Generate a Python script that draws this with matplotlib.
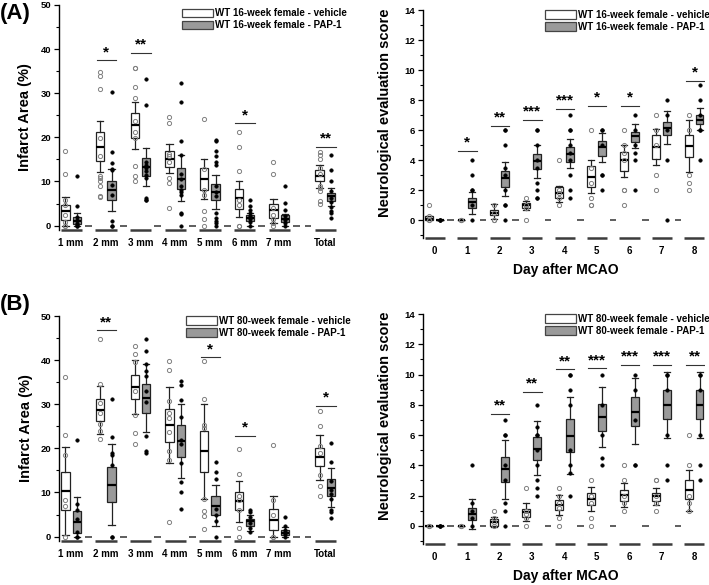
import matplotlib
matplotlib.use('Agg')
import matplotlib.pyplot as plt
from matplotlib.patches import Patch
from matplotlib.ticker import MultipleLocator

plt.rcParams['font.family'] = ['Liberation Sans', 'DejaVu Sans']
plt.rcParams['font.weight'] = 'bold'

# ---------------- data ----------------
inf_labels = ['1 mm', '2 mm', '3 mm', '4 mm', '5 mm', '6 mm', '7 mm', 'Total']
day_labels = ['0', '1', '2', '3', '4', '5', '6', '7', '8']

leg16 = ['WT 16-week female - vehicle', 'WT 16-week female - PAP-1']
leg80 = ['WT 80-week female - vehicle', 'WT 80-week female - PAP-1']

# box stats: [whisker low, q1, median, q3, whisker high]
A_inf_veh = [[0, 1.2, 3.2, 4.7, 6.4], [12.1, 14.7, 17.8, 21.1, 23.7], [17.3, 19.8, 22.7, 25.5, 27.9],
             [11.9, 13.3, 15.1, 17.0, 18.5], [6.1, 8.1, 10.6, 13.0, 15.1], [1.9, 3.8, 6.3, 8.4, 10.2],
             [0.6, 1.7, 3.5, 5.0, 6.1], [8.5, 10.0, 11.2, 12.5, 13.8]]
A_inf_pap = [[0, 0.45, 1.0, 1.9, 2.9], [3.4, 5.9, 8.1, 10.2, 12.8], [9.0, 11.3, 13.3, 15.3, 17.6],
             [5.5, 8.3, 10.6, 13.0, 15.9], [3.8, 5.7, 7.6, 9.4, 11.5], [0, 1.1, 1.7, 2.5, 2.9],
             [0, 0.75, 1.4, 2.3, 2.6], [4.4, 5.5, 6.6, 7.4, 8.5]]
A_inf_veh_pts = [[16.8, 11.7, 5.9, 4.6, 2.5, 0.75, 0, 0],
                 [34.7, 33.9, 31.0, 19.8, 15.7, 11.3, 10.8, 10.0, 9.0, 6.8, 6.4],
                 [35.8, 35.8, 31.5, 28.9, 23.8, 21.1, 19.9, 13.4, 11.2, 10.0],
                 [24.5, 23.2, 16.2, 15.7, 14.5, 10.8, 9.6, 4.0],
                 [24.1, 12.9, 8.1, 7.0, 3.2, 1.5, 0],
                 [21.1, 17.9, 12.3, 5.9, 4.7, 0, 0],
                 [14.5, 11.8, 4.0, 2.5, 1.5, 0.5, 0],
                 [16.6, 16.1, 15.1, 13.0, 11.8, 9.0, 8.5, 7.8, 5.5, 5.0]]
A_inf_pap_pts = [[11.2, 4.5, 1.9, 1.3, 0.6, 0.2, 0, 0],
                 [30.2, 16.7, 14.2, 12.8, 12.5, 9.3, 7.0, 1.1, 0, 0],
                 [33.3, 27.4, 14.5, 13.8, 13.0, 12.3, 11.5, 10.8, 6.3, 5.7, 5.9],
                 [32.3, 28.1, 19.1, 15.9, 11.8, 10.6, 8.9, 8.1, 7.6, 6.9, 2.9, 2.7, 0],
                 [19.4, 19.1, 16.8, 15.7, 14.5, 13.8, 8.9, 7.6, 6.8, 2.9, 1.7, 1.0, 0.5, 0],
                 [5.7, 4.4, 3.6, 2.9, 2.2, 1.5, 0.7, 0],
                 [9.0, 5.1, 3.6, 2.1, 1.3, 0.6, 0],
                 [16.1, 12.5, 10.0, 7.8, 6.3, 5.3, 4.1, 3.2, 2.8, 1.7]]
A_inf_sig = [(1, 37.5, '*'), (2, 39.2, '**'), (5, 23.2, '*'), (7, 17.9, '**')]

A_neu_veh = [[0, 0, 0.1, 0.25, 0.3], [0, 0, 0, 0, 0], [0.1, 0.35, 0.5, 0.7, 1.05], [0.7, 0.8, 1.0, 1.15, 1.3],
             [1.2, 1.45, 1.8, 2.2, 2.3], [1.8, 2.2, 2.9, 3.6, 4.0], [2.9, 3.3, 4.0, 4.55, 5.0],
             [3.7, 4.1, 4.9, 5.65, 6.1], [3.2, 4.2, 4.95, 5.65, 6.7]]
A_neu_pap = [[0, 0, 0, 0, 0], [0.4, 0.8, 1.2, 1.45, 1.9], [1.6, 2.2, 2.8, 3.25, 3.9], [2.8, 3.4, 3.95, 4.4, 5.0],
             [3.45, 3.9, 4.4, 4.9, 5.4], [3.9, 4.3, 4.85, 5.3, 5.8], [4.8, 5.2, 5.6, 5.9, 6.4],
             [5.05, 5.65, 6.15, 6.55, 7.25], [6.0, 6.4, 6.7, 7.0, 7.45]]
A_neu_veh_pts = [[1.0, 0.25, 0, 0], [0, 0, 0], [1.0, 0.5, 0, 0], [1.5, 1.0, 0.8, 0],
                 [4.0, 2.0, 1.8, 1.5, 1.0], [6.0, 3.5, 2.5, 1.5, 1.0, 1.0],
                 [6.0, 5.0, 4.5, 4.0, 2.0, 2.0, 1.0], [7.0, 6.0, 5.0, 3.0, 2.0], [7.0, 6.0, 3.0, 2.5, 2.0]]
A_neu_pap_pts = [[0, 0, 0], [4.0, 3.0, 2.0, 2.0, 1.0, 0], [6.0, 6.0, 5.0, 3.5, 3.0, 2.0, 1.0, 1.0, 0],
                 [6.0, 6.0, 5.0, 4.0, 3.5, 2.5, 2.0, 1.5, 1.5], [7.0, 6.0, 6.0, 5.0, 4.5, 4.0, 3.0, 2.0, 1.5],
                 [6.0, 6.0, 5.0, 3.0, 3.0, 2.0], [7.0, 6.0, 5.0, 4.5, 4.0, 2.0], [8.0, 7.0, 6.0, 4.0, 0],
                 [9.0, 8.0, 7.0, 6.0, 6.0, 4.0]]
A_neu_sig = [(1, 4.6, '*'), (2, 6.3, '**'), (3, 6.7, '***'), (4, 7.4, '***'), (5, 7.6, '*'),
             (6, 7.6, '*'), (8, 9.3, '*')]

B_inf_veh = [[0.4, 6.0, 10.4, 14.7, 20.4], [23.2, 26.2, 28.8, 31.1, 34.2], [27.8, 31.1, 33.9, 36.6, 40.1],
             [16.7, 21.4, 25.2, 29.0, 33.8], [8.6, 14.6, 19.3, 23.9, 30.0], [3.3, 6.0, 8.0, 10.1, 12.7],
             [0, 1.4, 3.8, 6.2, 9.2], [12.8, 15.9, 18.0, 20.1, 23.0]]
B_inf_pap = [[0, 0.9, 3.2, 5.8, 8.9], [2.6, 7.8, 11.8, 15.8, 21.1], [23.8, 28.1, 31.4, 34.7, 39.1],
             [13.3, 18.0, 21.6, 25.3, 30.0], [2.4, 5.0, 7.0, 9.1, 11.6], [1.3, 2.5, 3.5, 4.0, 5.0],
             [0, 0.3, 0.8, 1.6, 2.1], [6.8, 9.3, 11.0, 13.0, 15.5]]
B_inf_veh_pts = [[36.2, 23.0, 18.5, 8.4, 6.9, 0],
                 [44.8, 34.5, 30.2, 28.0, 25.5, 24.0, 22.2],
                 [43.1, 41.5, 39.6, 33.0, 27.5, 23.4, 21.1],
                 [39.8, 37.8, 30.8, 28.0, 26.8, 23.6, 19.3, 17.3, 3.2],
                 [39.8, 31.3, 25.4, 24.6, 8.6, 5.9, 4.7, 1.8],
                 [19.9, 14.2, 9.2, 8.2, 6.0, 2.0, 0],
                 [20.7, 8.4, 5.0, 0, 0],
                 [28.4, 25.1, 20.5, 19.0, 14.0, 11.4, 9.2]]
B_inf_pap_pts = [[22.0, 7.5, 6.0, 4.0, 1.0, 0, 0],
                 [31.1, 22.6, 19.0, 18.5, 16.2, 0, 0],
                 [44.7, 42.0, 39.2, 37.5, 36.3, 33.0, 30.5, 22.8, 19.4, 18.9],
                 [35.3, 34.3, 31.0, 27.0, 22.0, 21.0, 16.6, 12.4, 10.2, 6.2],
                 [16.8, 14.7, 13.0, 6.2, 4.8, 3.6, 0],
                 [6.1, 5.5, 4.5, 3.0, 2.0, 1.0],
                 [4.5, 2.5, 1.5, 1.0, 0.5, 0],
                 [21.3, 16.8, 12.5, 10.5, 9.6, 8.5, 6.0, 5.5, 4.2]]
B_inf_sig = [(1, 46.8, '**'), (4, 40.6, '*'), (5, 22.9, '*'), (7, 29.6, '*')]

B_neu_veh = [[0, 0, 0, 0, 0], [0, 0, 0, 0, 0], [-0.1, 0.0, 0.25, 0.45, 0.6], [0.3, 0.6, 0.9, 1.1, 1.5],
             [0.7, 1.05, 1.35, 1.7, 2.05], [1.0, 1.4, 1.8, 2.2, 2.6], [1.25, 1.65, 2.05, 2.4, 2.85],
             [1.35, 1.65, 1.95, 2.2, 2.5], [1.0, 1.75, 2.4, 3.0, 3.7]]
B_neu_pap = [[0, 0, 0, 0, 0], [-0.2, 0.4, 0.8, 1.2, 1.8], [1.8, 2.9, 3.75, 4.55, 5.65], [3.35, 4.35, 5.1, 5.9, 6.9],
             [3.4, 4.85, 5.95, 7.05, 8.5], [5.2, 6.3, 7.2, 8.05, 9.15], [5.4, 6.6, 7.55, 8.5, 9.75],
             [5.8, 7.05, 8.0, 8.95, 10.2], [5.8, 7.05, 8.0, 8.95, 10.2]]
B_neu_veh_pts = [[0, 0, 0], [0, 0, 0], [1.0, 0.5, 0.25, 0], [2.5, 1.0, 0.8, 0.5, 0],
                 [2.5, 2.0, 1.5, 1.2, 0.5, 0], [3.0, 2.0, 1.5, 0.5, 0], [4.0, 3.0, 2.0, 1.5, 1.0],
                 [3.0, 3.0, 2.0, 1.5, 1.0], [6.0, 4.0, 2.0, 1.5, 1.0]]
B_neu_pap_pts = [[0, 0, 0], [4.0, 1.5, 1.0, 0.5, 0], [7.0, 6.0, 6.0, 4.0, 3.0, 1.5, 1.0, 0],
                 [8.0, 6.5, 6.0, 6.0, 5.0, 4.0, 3.0, 2.5, 2.0], [10.0, 10.0, 9.0, 8.0, 5.0, 4.0, 3.5, 2.0],
                 [10.0, 8.0, 6.0, 4.5, 4.0], [10.0, 9.0, 7.0, 4.0, 4.0], [10.0, 10.0, 9.0, 6.0, 4.0, 3.0],
                 [10.0, 10.0, 9.0, 6.0, 4.0, 3.0]]
B_neu_sig = [(2, 7.4, '**'), (3, 8.85, '**'), (4, 10.35, '**'), (5, 10.4, '***'), (6, 10.65, '***'),
             (7, 10.65, '***'), (8, 10.65, '**')]

# ---------------- layout ----------------
W, H = 709, 585
fig = plt.figure(figsize=(W / 100, H / 100), dpi=100)


def px_axes(l, t, r, b):
    return fig.add_axes([l / W, 1 - b / H, (r - l) / W, (b - t) / H])


GREY = '#9a9a9a'
EDGE = '#222222'


def stats_list(rows):
    out = []
    for lo, q1, md, q3, hi in rows:
        out.append(dict(whislo=lo, q1=q1, med=md, q3=q3, whishi=hi, fliers=[]))
    return out


def draw_panel(ax, veh, pap, veh_pts, pap_pts, sig, labels, starts, zero_slots, ylim, major, minor,
               xlim, ylabel, legend_labels, leg_anchor, xlabel=None, xlabel_y=None, ylab_xy=(-0.1, 0.5)):
    vpos = list(starts)
    ppos = [s + 1 for s in starts]
    common = dict(widths=0.72, patch_artist=True, showfliers=False, manage_ticks=False,
                  medianprops=dict(color='black', linewidth=1.6),
                  whiskerprops=dict(color=EDGE, linewidth=0.9),
                  capprops=dict(color=EDGE, linewidth=0.9), capwidths=0.55)
    ax.bxp(stats_list(veh), positions=vpos,
           boxprops=dict(facecolor='white', edgecolor=EDGE, linewidth=0.9), **common)
    ax.bxp(stats_list(pap), positions=ppos,
           boxprops=dict(facecolor=GREY, edgecolor=EDGE, linewidth=0.9), **common)
    for x, pts in zip(vpos, veh_pts):
        ax.plot([x] * len(pts), pts, 'o', mfc='none', mec='#808080', ms=3.0, mew=0.7,
                clip_on=False, zorder=4)
    for x, pts in zip(ppos, pap_pts):
        ax.plot([x] * len(pts), pts, 'o', mfc='black', mec='black', ms=2.6, mew=0.3,
                clip_on=False, zorder=4)
    # zero-level dashes in empty slots
    ax.hlines([0] * len(zero_slots), [z - 0.3 for z in zero_slots], [z + 0.3 for z in zero_slots],
              color='#333333', lw=1.1)
    # significance
    for g, y, s in sig:
        x0, x1 = vpos[g] - 0.3, ppos[g] + 0.4
        ax.plot([x0, x1], [y, y], color='#333333', lw=0.8)
        ax.text((x0 + x1) / 2, y + (ylim[1] - ylim[0]) * 0.005, s, ha='center', va='bottom',
                fontsize=11, fontweight='bold')
    ax.set_xlim(*xlim)
    ax.set_ylim(*ylim)
    for sp in ['top', 'right', 'bottom']:
        ax.spines[sp].set_visible(False)
    ax.spines['left'].set_linewidth(1.0)
    ax.yaxis.set_major_locator(MultipleLocator(major))
    ax.yaxis.set_minor_locator(MultipleLocator(minor))
    ax.tick_params(axis='y', which='major', length=3.5, width=0.9, labelsize=6.8, pad=2)
    ax.tick_params(axis='y', which='minor', length=2, width=0.8)
    ax.set_yticks([t for t in ax.get_yticks() if ylim[0] <= t <= ylim[1] + 1e-9])
    ax.set_xticks([s + 0.5 for s in starts])
    ax.set_xticklabels(labels, fontsize=7, fontweight='bold')
    ax.tick_params(axis='x', length=0, pad=6)
    for lab in ax.get_yticklabels():
        lab.set_fontweight('bold')
    # broken bottom axis segments
    tr = ax.get_xaxis_transform()
    for s in starts:
        ax.plot([s - 0.4, s + 1.45], [0, 0], color='#3c3c3c', lw=1.8, transform=tr,
                clip_on=False, solid_capstyle='butt')
    ax.set_ylabel(ylabel, fontsize=10.5, fontweight='bold')
    ax.yaxis.set_label_coords(*ylab_xy)
    if xlabel:
        ax.set_xlabel(xlabel, fontsize=10, fontweight='bold')
        ax.xaxis.set_label_coords(0.507, xlabel_y)
    handles = [Patch(facecolor='white', edgecolor='#444444', lw=0.9),
               Patch(facecolor=GREY, edgecolor='#444444', lw=0.9)]
    ax.legend(handles, legend_labels, loc='upper left', bbox_to_anchor=leg_anchor, frameon=False,
              fontsize=7, handlelength=3.2, handleheight=1.0, handletextpad=0.15,
              labelspacing=0.2, borderaxespad=0, borderpad=0,
              prop=dict(weight='bold', size=7))


inf_starts = [0, 3, 6, 9, 12, 15, 18, 22]
inf_zero = [2, 5, 8, 11, 14, 17, 20, 21]
day_starts = [0, 3, 6, 9, 12, 15, 18, 21, 24]
day_zero = [2, 5, 8, 11, 14, 17, 20, 23]

axA1 = px_axes(59, 5, 345, 230)
draw_panel(axA1, A_inf_veh, A_inf_pap, A_inf_veh_pts, A_inf_pap_pts, A_inf_sig, inf_labels,
           inf_starts, inf_zero, (-1, 50), 10, 5, (-0.55, 24.2), 'Infarct Area (%)', leg16,
           (0.43, 0.985), ylab_xy=(-0.095, 0.5))

axA2 = px_axes(423, 10, 705, 238)
draw_panel(axA2, A_neu_veh, A_neu_pap, A_neu_veh_pts, A_neu_pap_pts, A_neu_sig, day_labels,
           day_starts, day_zero, (-1.2, 14), 2, 1, (-0.55, 25.5), 'Neurological evaluation score',
           leg16, (0.433, 1.0), xlabel='Day after MCAO', xlabel_y=-0.11, ylab_xy=(-0.11, 0.55))

axB1 = px_axes(59, 316, 345, 541)
draw_panel(axB1, B_inf_veh, B_inf_pap, B_inf_veh_pts, B_inf_pap_pts, B_inf_sig, inf_labels,
           inf_starts, inf_zero, (-1, 50), 10, 5, (-0.55, 24.2), 'Infarct Area (%)', leg80,
           (0.445, 1.0), ylab_xy=(-0.09, 0.5))

axB2 = px_axes(423, 314, 705, 544)
draw_panel(axB2, B_neu_veh, B_neu_pap, B_neu_veh_pts, B_neu_pap_pts, B_neu_sig, day_labels,
           day_starts, day_zero, (-1.2, 14), 2, 1, (-0.55, 25.5), 'Neurological evaluation score',
           leg80, (0.433, 1.0), xlabel='Day after MCAO', xlabel_y=-0.11, ylab_xy=(-0.11, 0.557))

fig.text(0.0, 0.995, '(A)', fontsize=16, fontweight='bold', ha='left', va='top')
fig.text(0.0, 0.497, '(B)', fontsize=16, fontweight='bold', ha='left', va='top')

fig.savefig('out.png', dpi=100)
